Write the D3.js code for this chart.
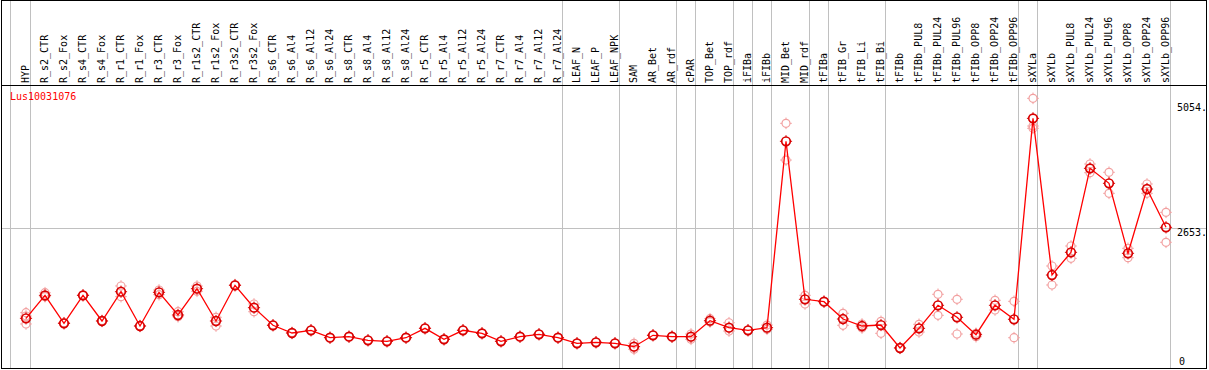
<!DOCTYPE html>
<html lang="en">
<head>
  <meta charset="utf-8"/>
  <title>Lus10031076</title>
  <script src="https://cdn.jsdelivr.net/npm/d3@7/dist/d3.min.js"></script>
  <style>
    html,body { margin:0; padding:0; background:#fff; overflow:hidden; }
    svg  { display:block; }
    text { font-family:"DejaVu Sans Mono", monospace; font-size:10px; }
  </style>
</head>
<body>
<svg width="1209" height="370"></svg>
<script>
// Samples (columns)
const samples = [
  "HYP","R_s2_CTR","R_s2_Fox","R_s4_CTR","R_s4_Fox","R_r1_CTR","R_r1_Fox","R_r3_CTR","R_r3_Fox",
  "R_r1s2_CTR","R_r1s2_Fox","R_r3s2_CTR","R_r3s2_Fox","R_s6_CTR","R_s6_Al4","R_s6_Al12","R_s6_Al24",
  "R_s8_CTR","R_s8_Al4","R_s8_Al12","R_s8_Al24","R_r5_CTR","R_r5_Al4","R_r5_Al12","R_r5_Al24",
  "R_r7_CTR","R_r7_Al4","R_r7_Al12","R_r7_Al24","LEAF_N","LEAF_P","LEAF_NPK","SAM","AR_Bet","AR_rdf",
  "cPAR","TOP_Bet","TOP_rdf","iFIBa","iFIBb","MID_Bet","MID_rdf","tFIBa","tFIB_Gr","tFIB_Li","tFIB_Bi",
  "tFIBb","tFIBb_PUL8","tFIBb_PUL24","tFIBb_PUL96","tFIBb_OPP8","tFIBb_OPP24","tFIBb_OPP96",
  "sXYLa","sXYLb","sXYLb_PUL8","sXYLb_PUL24","sXYLb_PUL96","sXYLb_OPP8","sXYLb_OPP24","sXYLb_OPP96"
];

// Mean expression per sample
const means = [
  914,1354,818,1354,862,1423,766,1412,977,
  1481,862,1546,1117,780,632,684,542,
  561,492,473,542,722,511,684,626,
  473,561,607,542,435,454,435,370,588,561,
  561,868,734,684,734,4305,1278,1232,900,766,785,
  345,722,1163,933,600,1163,895,
  4745,1743,2178,3787,3500,2159,3391,2657
];

// Replicate values per sample
const reps = [
  [1021,958,805],[1404,1328],[818,830],[1354,1360],[862,870],[1533,1328],[766,772],[1456,1366],[1040,944],
  [1533,1431],[933,766],[1546,1560],[1188,1040],[780,786],[632,640],[684,690],[542,548],
  [561,566],[492,498],[473,478],[542,548],[722,730],[511,516],[684,690],[626,632],
  [473,478],[561,566],[607,612],[542,548],[435,440],[454,458],[435,440],[435,320],[588,594],[561,566],
  [613,511],[906,843],[829,670],[684,690],[785,703],[4649,3946],[1354,1188],[1232,1240],[1010,780],[805,728],[856,626],
  [345,350],[799,651],[1374,971],[1278,613],[626,561],[1259,1073],[1239,542],
  [5128,4554,4598],[1916,1552],[2299,2063],[3870,3703],[3711,3308],[2255,2075],[3487,3308],[2944,2370]
];

// Group separators drawn after these samples
const separators = ["HYP","R_r7_Al24","LEAF_NPK","AR_rdf","cPAR","TOP_rdf","iFIBa","iFIBb",
                    "MID_rdf","tFIBa","tFIB_Bi","tFIBb_OPP96","sXYLa","sXYLb_OPP96"];

// Right axis ticks
const yTicks = [5054, 2653, 0];
const geneName = "Lus10031076";

const svg = d3.select("svg");
const L = 1, R = 1207, T = 0, B = 368, HEAD = 85;

const x = d3.scalePoint().domain(samples).range([26, 1166]);
const y = d3.scaleLinear().domain([0, 5054]).range([366, 102.2]);

// grid
const grid = svg.append("g").attr("stroke","#c0c0c0").attr("shape-rendering","crispEdges");
grid.append("line").attr("x1",10.5).attr("x2",10.5).attr("y1",T).attr("y2",B);
grid.selectAll("line.sep").data(separators).join("line").attr("class","sep")
  .attr("x1", d => Math.round(x(d)+4)+0.5).attr("x2", d => Math.round(x(d)+4)+0.5)
  .attr("y1",T).attr("y2",B);
grid.append("line").attr("x1",L).attr("x2",R)
  .attr("y1", Math.round(y(2653))+0.5).attr("y2", Math.round(y(2653))+0.5);

// frame + header rule
const frame = svg.append("g").attr("stroke","#000").attr("fill","none").attr("shape-rendering","crispEdges");
frame.append("rect").attr("x",L+0.5).attr("y",T+0.5).attr("width",R-L-1).attr("height",B-T);
frame.append("line").attr("x1",L).attr("x2",R).attr("y1",HEAD+0.5).attr("y2",HEAD+0.5);

// column labels
svg.append("g").selectAll("text").data(samples).join("text")
  .attr("transform", d => `translate(${x(d)+2.5},83) rotate(-90)`)
  .attr("text-anchor","start")
  .attr("fill","#000")
  .text(d => d);

// gene name
svg.append("text").attr("x",10).attr("y",100).attr("fill","#f00").text(geneName);

// right axis labels
svg.append("g").selectAll("text").data(yTicks).join("text")
  .attr("x", d => d === 0 ? 1179 : 1177)
  .attr("y", d => Math.min(y(d)+8.7, 365))
  .attr("fill","#000")
  .text(d => d === 0 ? "0" : d + ".");

// marker: circle with tiny ticks
function marker(g, cx, cy, r, color, w) {
  g.append("circle").attr("cx",cx).attr("cy",cy).attr("r",r)
    .attr("fill","none").attr("stroke",color).attr("stroke-width",w);
  const t = [[0,-1],[0,1],[-1,0],[1,0]];
  t.forEach(([dx,dy]) => g.append("line")
    .attr("x1",cx+dx*r).attr("y1",cy+dy*r)
    .attr("x2",cx+dx*(r+1.8)).attr("y2",cy+dy*(r+1.8))
    .attr("stroke",color).attr("stroke-width",1));
}

// replicates
const repG = svg.append("g");
samples.forEach((s,i) => reps[i].forEach(v => marker(repG, x(s), y(v), 4, "#f2a0a0", 1.2)));

// mean line
svg.append("path")
  .datum(means)
  .attr("fill","none").attr("stroke","#f00").attr("stroke-width",1.3)
  .attr("d", d3.line().x((d,i) => x(samples[i])).y(d => y(d)));

// mean points
const meanG = svg.append("g");
samples.forEach((s,i) => marker(meanG, x(s), y(means[i]), 4.3, "#d80000", 1.7));
</script>
</body>
</html>
